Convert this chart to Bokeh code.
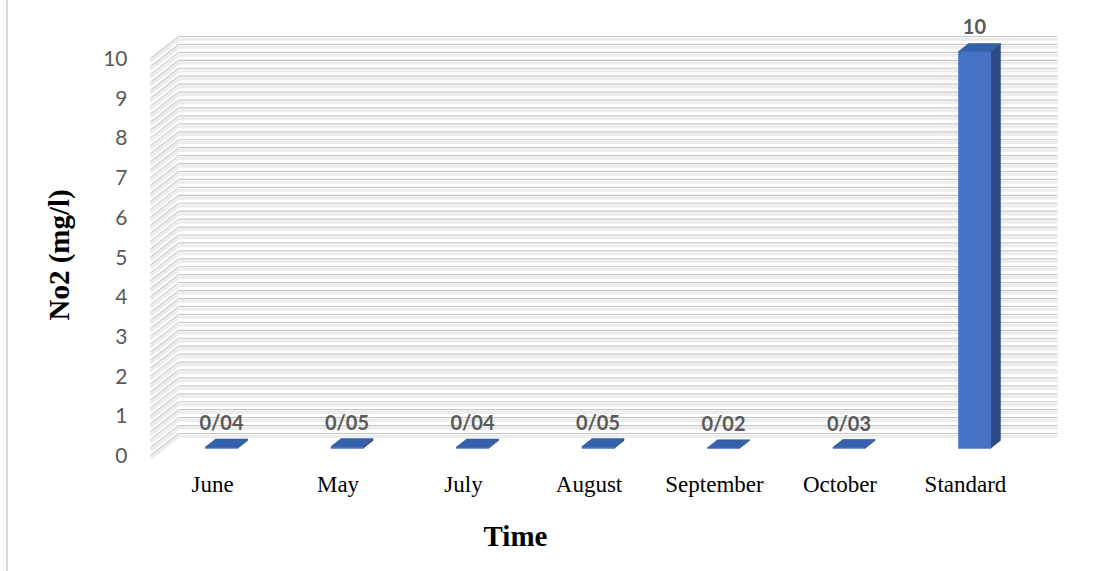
import numpy as np
from bokeh.plotting import figure
from bokeh.models import ColumnDataSource, FixedTicker, Title, Range1d
from bokeh.embed import file_html
from bokeh.resources import INLINE
from bokeh.core.properties import value

# ---- data ----
months = ["June", "May", "July", "August", "September", "October", "Standard"]
no2 = [0.04, 0.05, 0.04, 0.05, 0.02, 0.03, 10]
y_ticks = [0, 1, 2, 3, 4, 5, 6, 7, 8, 9, 10]
y_max = 10
grid_step = 0.2

# ---- 3D projection settings (data units) ----
DEPTH_DX = 0.2231      # x shift from the front plane to the back wall
DEPTH_DY = 0.554       # y shift from the front plane to the back wall
BAR_DEPTH0 = 0.32      # depth of bar front faces (0 = front, 1 = back wall)
BAR_THICK = 0.36       # depth thickness of bars
BAR_W = 0.255          # bar front-face width
LEFT_EDGE = -0.494     # front-left edge of the side wall
RIGHT_BACK = 6.733     # right end of the back wall

p = figure(width=1098, height=571,
           x_range=Range1d(-0.574, 7.06), y_range=Range1d(-0.277, 11.461),
           output_backend="svg", toolbar_location=None,
           min_border_left=140, min_border_right=0,
           min_border_top=0, min_border_bottom=105)
p.outline_line_color = None
p.xgrid.visible = False
p.ygrid.visible = False
p.background_fill_color = "white"
p.border_fill_color = None
# thin grey rule along the left edge of the chart area
p.styles = {"background": "linear-gradient(to right, white 6px, #d9d9d9 6px, "
                          "#d9d9d9 8px, white 8px)"}

# ---- walls: gridlines on back wall and side wall ----
levels = np.round(np.arange(0, y_max + 1e-9, grid_step), 3)
back_xs = [[LEFT_EDGE + DEPTH_DX, RIGHT_BACK] for _ in levels]
back_ys = [[v + DEPTH_DY, v + DEPTH_DY] for v in levels]
band_ys = [[v + DEPTH_DY - 0.07, v + DEPTH_DY - 0.07] for v in levels]
side_xs = [[LEFT_EDGE, LEFT_EDGE + DEPTH_DX] for _ in levels]
side_ys = [[v, v + DEPTH_DY] for v in levels]
side_band_ys = [[v - 0.07, v + DEPTH_DY - 0.07] for v in levels]

p.multi_line(back_xs, band_ys, line_color="#ececec", line_width=3)
p.multi_line(side_xs, side_band_ys, line_color="#ececec", line_width=3)
p.multi_line(back_xs, back_ys, line_color="#c8c8c8", line_width=1.2)
p.multi_line(side_xs, side_ys, line_color="#cfcfcf", line_width=1.2)

# ---- bars ----
idx = np.arange(len(months))
vals = np.array(no2, dtype=float)
cx = idx + BAR_DEPTH0 * DEPTH_DX
base = BAR_DEPTH0 * DEPTH_DY
left = cx - BAR_W / 2
right = cx + BAR_W / 2
bottom = np.full_like(vals, base)
top = vals + base
tdx = BAR_THICK * DEPTH_DX
tdy = BAR_THICK * DEPTH_DY

side_x = [[r, r, r + tdx, r + tdx] for r in right]
side_y = [[b, t, t + tdy, b + tdy] for b, t in zip(bottom, top)]
top_x = [[l, r, r + tdx, l + tdx] for l, r in zip(left, right)]
top_y = [[t, t, t + tdy, t + tdy] for t in top]

p.patches(side_x, side_y, fill_color="#2c4b85", line_color="#2c4b85", line_width=0.5)
p.quad(left=left, right=right, bottom=bottom, top=top,
       fill_color="#4472c4", line_color="#4472c4", line_width=0.5)
p.patches(top_x, top_y, fill_color="#3461ab", line_color="#2f5597", line_width=0.5)

# ---- value labels ----
labels = [("%g" % v).replace(".", "/") for v in no2]
lab_src = ColumnDataSource(dict(x=cx, y=top + 0.62, text=labels))
p.text(x="x", y="y", text="text", source=lab_src,
       text_font=value("Lato"), text_font_style="bold", text_font_size="20px",
       text_color="#595959", text_align="center", text_baseline="middle")

# ---- axes ----
yax = p.yaxis[0]
yax.ticker = FixedTicker(ticks=y_ticks)
yax.axis_line_color = None
yax.major_tick_line_color = None
yax.minor_tick_line_color = None
yax.major_label_text_font = "Lato"
yax.major_label_text_font_size = "21px"
yax.major_label_text_color = "#595959"
yax.major_label_standoff = 7

xax = p.xaxis[0]
xax.ticker = FixedTicker(ticks=list(idx))
xax.major_label_overrides = {int(i): m for i, m in zip(idx, months)}
xax.axis_line_color = None
xax.major_tick_line_color = None
xax.minor_tick_line_color = None
xax.major_label_text_font = "Liberation Serif"
xax.major_label_text_font_size = "23px"
xax.major_label_text_color = "black"
xax.major_label_standoff = -1

# ---- axis titles ----
title_kw = dict(text_font="Liberation Serif", text_font_style="bold",
                text_font_size="29px", text_color="black", align="left")
has_standoff = "standoff" in Title.properties()

x_title = Title(text="Time", offset=343, **title_kw)
y_title = Title(text="No2 (mg/l)", offset=146, **title_kw)
if has_standoff:
    x_title.standoff = 36
    y_title.standoff = 51
p.add_layout(x_title, "below")
p.add_layout(y_title, "left")

open("out.html", "w").write(file_html(p, INLINE))
